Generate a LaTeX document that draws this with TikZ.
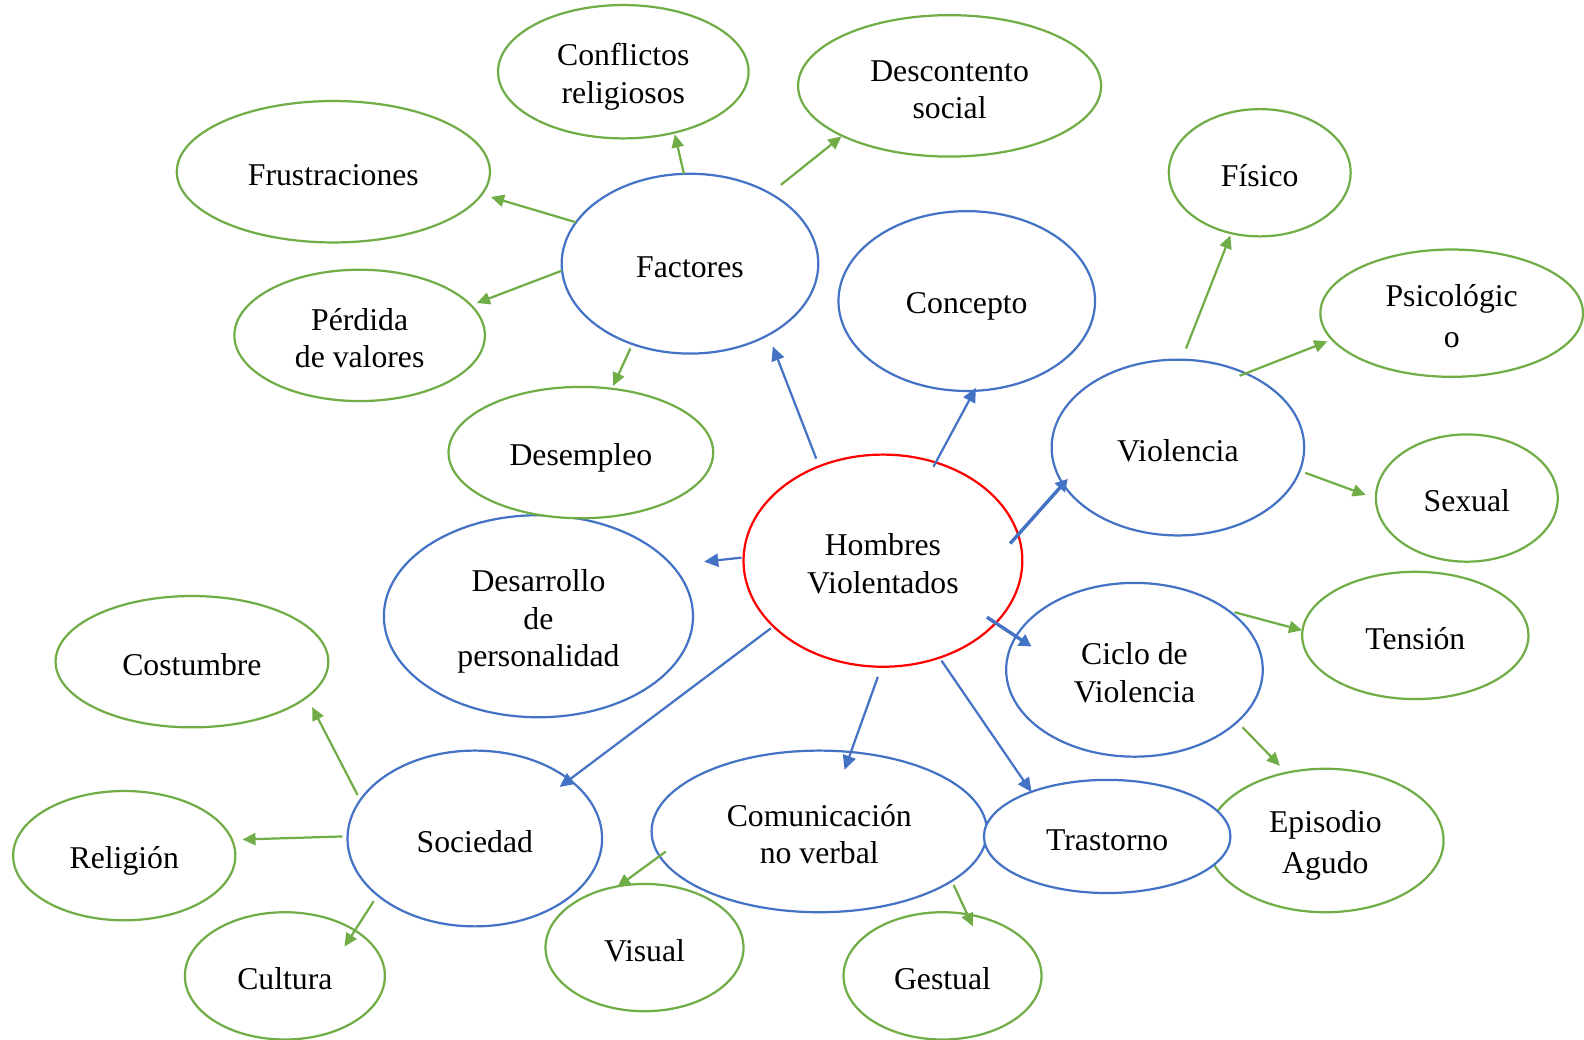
\documentclass[tikz,border=0pt]{standalone}
\usepackage{fontspec}
\setmainfont{Liberation Serif}
\usetikzlibrary{shapes.geometric,arrows.meta,calc}
\definecolor{gr}{RGB}{112,173,71}
\definecolor{bl}{RGB}{68,114,196}
\newcommand\lnstrut{\rule[-2.4pt]{0pt}{18.5pt}}
\tikzset{
  ell/.style={ellipse, line width=1.1pt, inner sep=0pt, align=center, fill=white,
    font=\fontsize{15.7}{18.5}\selectfont},
  gell/.style={ell, draw=gr},
  bell/.style={ell, draw=bl},
  rell/.style={ell, draw=red},
  garr/.style={draw=gr, line width=1.1pt, -{Triangle[length=6.5pt,width=6pt]}},
  barr/.style={draw=bl, line width=1.1pt, -{Triangle[length=7pt,width=6.5pt]}},
  bbarr/.style={draw=bl, line width=1.7pt, -{Triangle[length=6pt,width=6.5pt]}}
}
\begin{document}
\begin{tikzpicture}[x=0.5pt,y=-0.5pt]
\useasboundingbox (0,0) rectangle (1568,1029);
% nodes
\node[gell, minimum width=124pt, minimum height=66pt] (con) at (617,71) {\lnstrut Conflictos\\\lnstrut religiosos};
\node[gell, minimum width=150pt, minimum height=70pt] (dsc) at (940,85) {\lnstrut Descontento\\\lnstrut social};
\node[gell, minimum width=155pt, minimum height=70pt] (fru) at (330,170) {\lnstrut Frustraciones};
\node[bell, minimum width=127pt, minimum height=89pt] (fac) at (683,261) {\lnstrut Factores};
\node[gell, minimum width=124pt, minimum height=65pt] (per) at (356,332) {\lnstrut Pérdida\\\lnstrut de valores};
\node[bell, minimum width=127pt, minimum height=89pt] (cpt) at (957,298) {\lnstrut Concepto};
\node[gell, minimum width=90pt, minimum height=63pt] (fis) at (1247,171) {\lnstrut Físico};
\node[gell, minimum width=130pt, minimum height=63pt] (psi) at (1437,310) {\lnstrut Psicológic\\\lnstrut o};
\node[bell, minimum width=153pt, minimum height=100pt] (des) at (533,610) {\lnstrut Desarrollo\\\lnstrut de\\\lnstrut personalidad};
\node[gell, minimum width=131pt, minimum height=65pt] (dem) at (575,448) {\lnstrut Desempleo};
\node[bell, minimum width=125pt, minimum height=87pt] (vio) at (1166,443) {\lnstrut Violencia};
\node[gell, minimum width=90pt, minimum height=63pt] (sex) at (1452,493) {\lnstrut Sexual};
\node[rell, minimum width=138pt, minimum height=105pt] (hv) at (874,555) {\lnstrut Hombres\\\lnstrut Violentados};
\node[gell, minimum width=112pt, minimum height=63pt] (ten) at (1401,629) {\lnstrut Tensión};
\node[bell, minimum width=127pt, minimum height=86pt] (cic) at (1123,663) {\lnstrut Ciclo de\\\lnstrut Violencia};
\node[gell, minimum width=135pt, minimum height=65pt] (cos) at (190,655) {\lnstrut Costumbre};
\node[bell, minimum width=126pt, minimum height=87pt] (soc) at (470,830) {\lnstrut Sociedad};
\node[bell, minimum width=166pt, minimum height=80pt] (com) at (811,823) {\lnstrut Comunicación\\\lnstrut no verbal};
\node[gell, minimum width=117pt, minimum height=71pt] (epi) at (1312,832) {\lnstrut Episodio\\\lnstrut Agudo};
\node[bell, minimum width=122pt, minimum height=56pt] (tra) at (1096,828) {\lnstrut Trastorno};
\node[gell, minimum width=110pt, minimum height=64pt] (rel) at (123,847) {\lnstrut Religión};
\node[gell, minimum width=98pt, minimum height=63pt] (vis) at (638,938) {\lnstrut Visual};
\node[gell, minimum width=99pt, minimum height=63pt] (cul) at (282,966) {\lnstrut Cultura};
\node[gell, minimum width=98pt, minimum height=63pt] (ges) at (933,966) {\lnstrut Gestual};
% green arrows
\draw[garr] ($(fac)+(-6,-89)$) -- ($(con)+(51,62)$);
\draw[garr] ($(fac)+(90,-78)$) -- ($(dsc)+(-107,50)$);
\draw[garr] ($(fac)+(-113,-41)$) -- ($(fru)+(156,25)$);
\draw[garr] ($(fac)+(-127,7)$) -- ($(per)+(116,-32)$);
\draw[garr] ($(fac)+(-59,84)$) -- ($(dem)+(32,-66)$);
\draw[garr] ($(vio)+(8,-98)$) -- ($(fis)+(-29,62)$);
\draw[garr] ($(vio)+(61,-71)$) -- ($(psi)+(-123,28)$);
\draw[garr] ($(vio)+(126,25)$) -- ($(sex)+(-100,-3)$);
\draw[garr] ($(cic)+(99,-57)$) -- ($(ten)+(-112,-5)$);
\draw[garr] ($(cic)+(107,57)$) -- ($(epi)+(-45,-74)$);
\draw[garr] ($(soc)+(-116,-43)$) -- ($(cos)+(119,45)$);
\draw[garr] ($(soc)+(-131,-2)$) -- ($(rel)+(117,-16)$);
\draw[garr] ($(soc)+(-100,62)$) -- ($(cul)+(59,-29)$);
\draw[garr] ($(com)+(-152,20)$) -- ($(vis)+(-27,-60)$);
\draw[garr] ($(com)+(133,53)$) -- ($(ges)+(30,-49)$);
% blue arrows
\draw[barr] ($(hv)+(-66,-101)$) -- ($(fac)+(82,82)$);
\draw[barr] ($(hv)+(50,-93)$) -- ($(cpt)+(9,86)$);
\draw[bbarr] ($(hv)+(126,-17)$) -- ($(vio)+(-109,31)$);
\draw[barr] ($(hv)+(-140,-3)$) -- ($(des)+(164,-54)$);
\draw[bbarr] ($(hv)+(103,56)$) -- ($(cic)+(-102,-23)$);
\draw[barr] ($(hv)+(-111,67)$) -- ($(soc)+(84,-51)$);
\draw[barr] ($(hv)+(-5,115)$) -- ($(com)+(25,-61)$);
\draw[barr] ($(hv)+(58,99)$) -- ($(tra)+(-75,-44)$);
\end{tikzpicture}
\end{document}
